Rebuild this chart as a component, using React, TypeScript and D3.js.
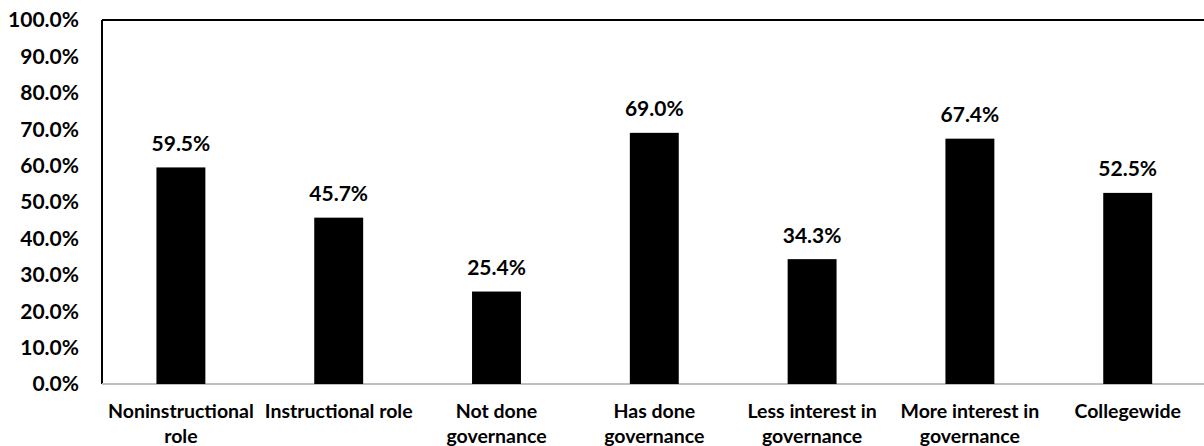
import * as d3 from "d3";

const categories = [
  ["Noninstructional", "role"],
  ["Instructional role"],
  ["Not done", "governance"],
  ["Has done", "governance"],
  ["Less interest in", "governance"],
  ["More interest in", "governance"],
  ["Collegewide"],
];
const values = [0.595, 0.457, 0.254, 0.69, 0.343, 0.674, 0.525];
const yTicks = [0, 0.1, 0.2, 0.3, 0.4, 0.5, 0.6, 0.7, 0.8, 0.9, 1.0];

const W = 1204;
const H = 446;
const left = 102;
const top = 20;
const bottom = 384;
const FONT = "Lato, 'Open Sans', sans-serif";

const App = () => {
  const x = d3
    .scaleBand<number>()
    .domain(d3.range(values.length))
    .range([left, left + 157.8 * values.length])
    .paddingInner(0.69)
    .paddingOuter(0.345);
  const y = d3.scaleLinear().domain([0, 1]).range([bottom, top]);
  const fmt = d3.format(".1%");

  return (
    <svg
      width={W}
      height={H}
      style={{ position: "absolute", left: 0, top: 0 }}
      fontFamily={FONT}
      fontWeight="bold"
    >
      <rect width={W} height={H} fill="#fff" />
      <line x1={left} x2={W} y1={top} y2={top} stroke="#000" strokeWidth={2} />
      <line x1={left} x2={left} y1={top} y2={bottom} stroke="#000" strokeWidth={2} />
      <line x1={left} x2={W} y1={bottom} y2={bottom} stroke="#bfbfbf" strokeWidth={2} />
      {yTicks.map((t) => (
        <text key={t} x={79} y={y(t)} dy="0.35em" textAnchor="end" fontSize={21}>
          {fmt(t)}
        </text>
      ))}
      {values.map((v, i) => (
        <g key={i}>
          <rect
            x={x(i)}
            y={y(v)}
            width={x.bandwidth()}
            height={bottom - y(v)}
            fill="#000"
          />
          <text
            x={x(i)! + x.bandwidth() / 2}
            y={y(v) - 16.5}
            textAnchor="middle"
            fontSize={21}
          >
            {fmt(v)}
          </text>
          {categories[i].map((line, j) => (
            <text
              key={j}
              x={x(i)! + x.bandwidth() / 2}
              y={418 + j * 25}
              textAnchor="middle"
              fontSize={19.5}
            >
              {line}
            </text>
          ))}
        </g>
      ))}
    </svg>
  );
};

export default App;
